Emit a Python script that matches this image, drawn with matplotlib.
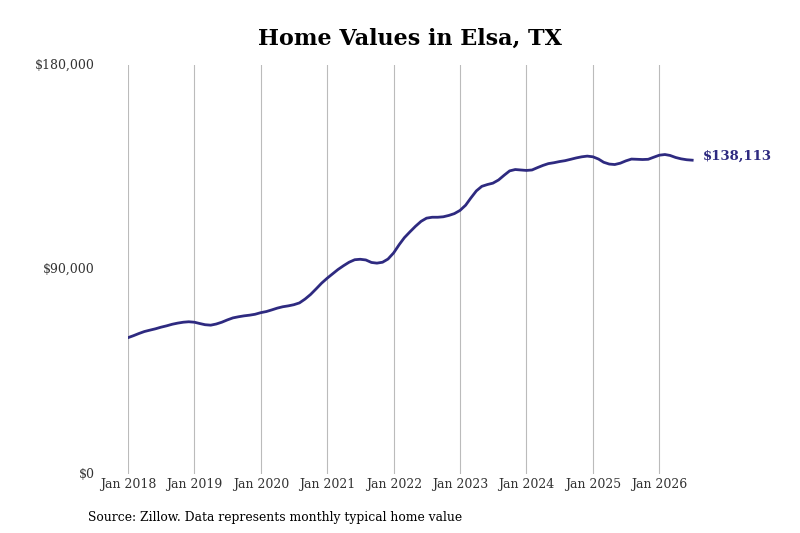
import matplotlib
matplotlib.use("Agg")
import matplotlib.pyplot as plt
import pandas as pd

plt.rcParams['font.family'] = ['DejaVu Serif']

values = [
    60000, 60900, 61800, 62700, 63300, 63900, 64600, 65200, 65900, 66400, 66800, 67000,
    66800, 66200, 65700, 65500, 66000, 66800, 67800, 68700, 69200, 69600, 69900, 70300,
    71000, 71500, 72200, 73000, 73600, 74000, 74500, 75300, 77000, 79000, 81500, 84000,
    86200, 88200, 90000, 91700, 93200, 94300, 94500, 94200, 93100, 92800, 93200, 94600,
    97300, 101000, 104000, 106600, 109000, 111200, 112600, 113000, 113000, 113200, 113800, 114600,
    116000, 118300, 121400, 124600, 126600, 127400, 128000, 129400, 131500, 133400, 134000, 133800,
    133600, 133800, 134800, 135800, 136600, 137000, 137500, 137900, 138500, 139100, 139600, 139900,
    139600, 138600, 137200, 136400, 136200, 136800, 137800, 138600, 138500, 138400, 138500, 139400,
    140300, 140600, 140200, 139300, 138700, 138300, 138113,
]
dates = pd.date_range("2018-01-01", periods=len(values), freq="MS")
tick_years = list(range(2018, 2027))
tick_labels = [f"Jan {y}" for y in tick_years]
y_ticks = [0, 90000, 180000]
y_labels = ["$0", "$90,000", "$180,000"]
end_label = "$138,113"

color = "#2e2a80"

fig = plt.figure(figsize=(8, 5.33), dpi=100)
ax = fig.add_axes([128/800, (533-474)/533, 592/800, 409/533])

ax.plot(dates, values, color=color, lw=2)

start = pd.Timestamp("2018-01-01")
ax.set_xlim(start, start + pd.Timedelta(days=3256))
ax.set_ylim(0, 180000)

tick_dates = [pd.Timestamp(f"{y}-01-01") for y in tick_years]
ax.set_xticks(tick_dates)
ax.set_xticklabels(tick_labels, fontsize=9, color="#333333")
ax.set_yticks(y_ticks)
ax.set_yticklabels(y_labels, fontsize=9, color="#333333")
ax.tick_params(axis='x', length=0, pad=3)
ax.tick_params(axis='y', length=0, pad=24)
for lbl in ax.get_yticklabels():
    lbl.set_verticalalignment('center')

ax.grid(axis='x', color="#bbbbbb", lw=0.8)
ax.grid(axis='y', visible=False)
for s in ax.spines.values():
    s.set_visible(False)

ax.annotate(end_label, xy=(dates[-1], values[-1]), xytext=(8, 3),
            textcoords="offset points", color=color, fontsize=9.5,
            fontweight="bold", va="center", ha="left")

fig.text(410/800, 1 - 39/533, "Home Values in Elsa, TX", ha="center", va="center",
         fontsize=16, fontweight="bold", color="black")
fig.text(88/800, 1 - 517/533, "Source: Zillow. Data represents monthly typical home value",
         ha="left", va="center", fontsize=8.9, color="black")

fig.savefig("out.png", dpi=100)
